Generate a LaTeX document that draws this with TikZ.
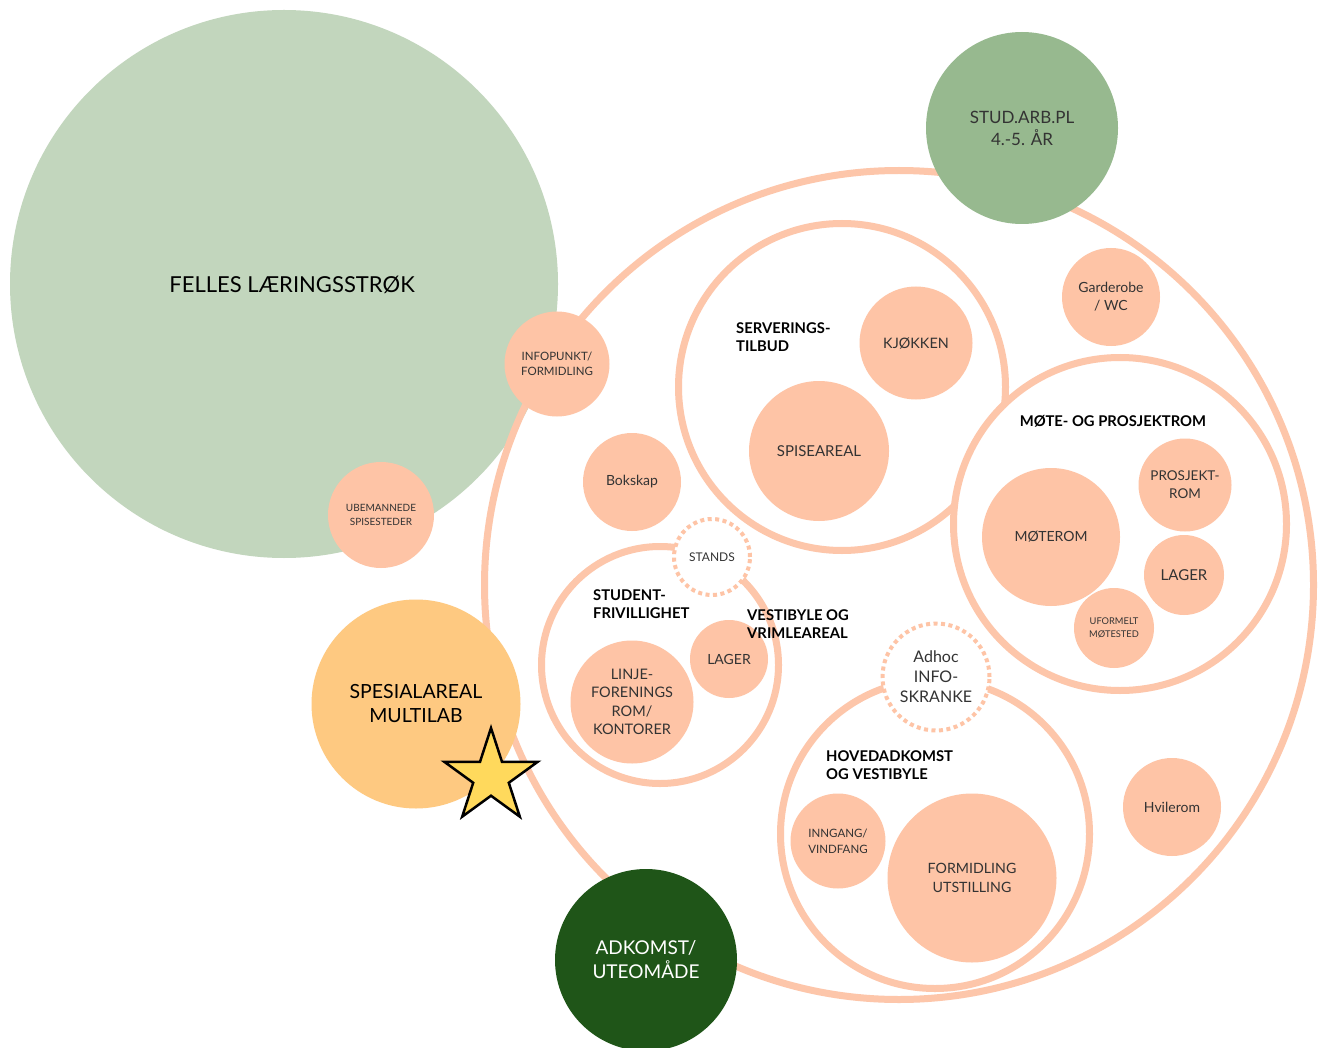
\documentclass[tikz,border=0pt]{standalone}
\usepackage{fontspec}
\setmainfont{Lato}
\usetikzlibrary{shapes.geometric}
\definecolor{peach}{HTML}{FEC4A6}
\definecolor{ringc}{HTML}{FDC6AA}
\definecolor{lgreen}{HTML}{C2D6BD}
\definecolor{mgreen}{HTML}{97B98F}
\definecolor{dgreen}{HTML}{1F5518}
\definecolor{orng}{HTML}{FEC981}
\definecolor{staryel}{HTML}{FFD95C}
\definecolor{txt}{HTML}{333333}
\newcommand\fsz[2]{\fontsize{#1}{#2}\selectfont}
\tikzset{
  blob/.style={circle, fill=peach, inner sep=0pt, align=center, text=txt, minimum size=#1},
  ring/.style={circle, draw=ringc, line width=7pt, inner sep=0pt, minimum size=#1},
  dotring/.style={circle, draw=peach, line width=4pt, dash pattern=on 4pt off 3.5pt, fill=white, inner sep=0pt, align=center, text=txt, minimum size=#1},
  head/.style={font=\bfseries\fsz{14.8}{18.5}, align=left, anchor=north west, inner sep=0pt, text=black}
}
\begin{document}
\begin{tikzpicture}[x=1pt,y=-1pt]
\clip (0,0) rectangle (1319,1048);
\fill[white] (0,0) rectangle (1319,1048);
% big green
\node[circle, fill=lgreen, inner sep=0pt, minimum size=548] (felles) at (284,284) {};
\node[text=black, font=\fsz{22}{26}] (fellest) at (292,285) {FELLES LÆRINGSSTRØK};
% outer ring
\node[ring=829] (outer) at (899,585) {};
% attached blobs
\node[blob=105, font=\fsz{11.5}{14.5}] (info) at (557,364) {INFOPUNKT/\\FORMIDLING};
\node[blob=106, font=\fsz{10}{14}] (ubem) at (381,515) {UBEMANNEDE\\SPISESTEDER};
\node[circle, fill=mgreen, inner sep=0pt, minimum size=192, align=center, text=txt, font=\fsz{17}{22}] (stud) at (1022,128) {STUD.ARB.PL\\4.-5. ÅR};
\node[circle, fill=orng, inner sep=0pt, minimum size=209, align=center, text=black, font=\fsz{19.5}{24}] (spes) at (416,704) {SPESIALAREAL\\MULTILAB};
\node[circle, fill=dgreen, inner sep=0pt, minimum size=182, align=center, text=white, font=\fsz{19}{24}] (adk) at (646,960) {ADKOMST/\\UTEOMÅDE};
\node[star, star points=5, star point ratio=2.618, minimum size=98, inner sep=0pt, draw=black, fill=staryel, line width=2.5pt] (star) at (491,777) {};
% free blobs in outer ring
\node[blob=98, font=\fsz{14}{18}] (gard) at (1111,297) {Garderobe\\/ WC};
\node[blob=98, font=\fsz{14}{18}] (bok) at (632,482) {Bokskap};
\node[blob=98, font=\fsz{14}{18}] (hvil) at (1172,807) {Hvilerom};
% serverings
\node[ring=327] (serv) at (842,387) {};
\node[blob=113, font=\fsz{14.4}{18}] (kjok) at (916,343) {KJØKKEN};
\node[blob=140, font=\fsz{15}{19}] (spis) at (819,451) {SPISEAREAL};
% mote
\node[ring=333, fill=white] (mote) at (1120,524) {};
\node[blob=138, font=\fsz{14}{19}] (moterom) at (1051,537) {MØTEROM};
\node[blob=93, font=\fsz{13.5}{18}] (prosj) at (1185,485) {PROSJEKT-\\ROM};
\node[blob=80, font=\fsz{15}{18}] (lager1) at (1184,575) {LAGER};
\node[blob=80, font=\fsz{9.3}{13}] (uform) at (1114,628) {UFORMELT\\MØTESTED};
% student
\node[ring=237] (stud2) at (660,665) {};
\node[dotring=76, font=\fsz{12}{14}] (stands) at (712,557) {STANDS};
\node[blob=123, font=\fsz{14.5}{18.5}] (linje) at (632,702) {LINJE-\\FORENINGS\\ROM/\\KONTORER};
\node[blob=78, font=\fsz{14}{17}] (lager2) at (729,659) {LAGER};
% hovedadkomst
\node[ring=309] (hoved) at (935,834) {};
\node[dotring=107, font=\fsz{16}{20}] (adhoc) at (936,677) {Adhoc\\INFO-\\SKRANKE};
\node[blob=95, font=\fsz{11.5}{16}] (inng) at (838,841) {INNGANG/\\VINDFANG};
\node[blob=169, font=\fsz{14.2}{19}] (form) at (972,878) {FORMIDLING\\UTSTILLING};
% headings on top
\node[head] (servh) at (736,322) {SERVERINGS-\\TILBUD};
\node[head, anchor=north] (moteh) at (1113,415) {MØTE- OG PROSJEKTROM};
\node[head] (studh) at (593,589) {STUDENT-\\FRIVILLIGHET};
\node[head] (vesth) at (747,609) {VESTIBYLE OG\\VRIMLEAREAL};
\node[head] (hovedh) at (826,750) {HOVEDADKOMST\\OG VESTIBYLE};
\end{tikzpicture}
\end{document}
